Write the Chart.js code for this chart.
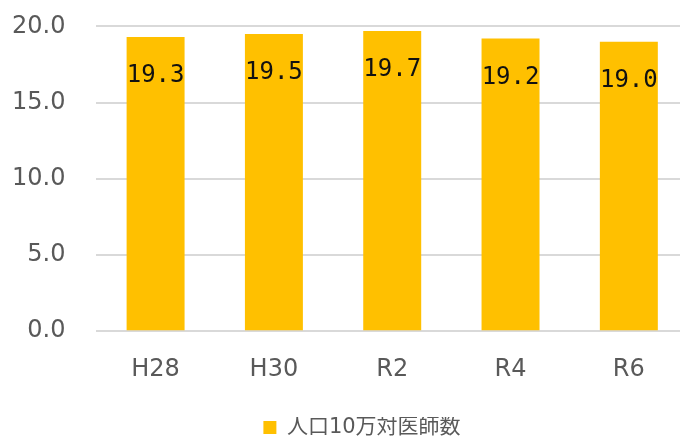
<!DOCTYPE html>
<html>
<head>
<meta charset="utf-8">
<script src="https://cdn.jsdelivr.net/npm/chart.js@4.4.0/dist/chart.umd.min.js"></script>
<style>
  html, body { margin: 0; padding: 0; overflow: hidden; background: #fff; }
  #wrap { width: 700px; height: 438px; }
</style>
</head>
<body>
<div id="wrap"><canvas id="chart"></canvas></div>
<script>
// years and doctors per 100k population
var years = ['H28', 'H30', 'R2', 'R4', 'R6'];
var doctors = [19.3, 19.5, 19.7, 19.2, 19.0];
var seriesName = '人口10万対医師数';
var yTicks = [0, 5, 10, 15, 20];

var AXIS_FONT = "'DejaVu Sans', 'Noto Sans CJK JP', sans-serif";
var VALUE_FONT = "'DejaVu Sans Mono', monospace";

// value labels drawn inside the top of each bar
var barValues = {
    id: 'barValues',
    afterDatasetsDraw: function (chart) {
        var ctx = chart.ctx;
        var meta = chart.getDatasetMeta(0);
        ctx.save();
        ctx.font = '24px ' + VALUE_FONT;
        ctx.fillStyle = '#111';
        ctx.textAlign = 'center';
        ctx.textBaseline = 'alphabetic';
        meta.data.forEach(function (bar, i) {
            ctx.fillText(doctors[i].toFixed(1), bar.x, bar.y + 45);
        });
        ctx.restore();
    }
};

// nudge the legend a little to the right of the canvas centre
var legendShift = {
    id: 'legendShift',
    afterLayout: function (chart) {
        if (chart.legend) chart.legend.left += 36;
    }
};

var ctx = document.getElementById('chart').getContext('2d');
var chart = new Chart(ctx, {
    type: 'bar',
    data: {
        labels: years,
        datasets: [{
            label: seriesName,
            data: doctors,
            backgroundColor: '#FFC000',
            borderWidth: 0,
            barPercentage: 0.49,
            categoryPercentage: 1.0
        }]
    },
    options: {
        responsive: true,
        maintainAspectRatio: false,
        animation: false,
        layout: { padding: { left: 0, right: 12, top: 0, bottom: -10 } },
        scales: {
            x: {
                grid: { display: false, drawTicks: false },
                border: { display: false },
                ticks: { color: '#595959', font: { family: AXIS_FONT, size: 24 }, padding: 24 },
                afterFit: function (axis) { axis.height += 9; }
            },
            y: {
                min: 0,
                max: 20,
                afterBuildTicks: function (axis) {
                    axis.ticks = yTicks.map(function (v) { return { value: v }; });
                },
                grid: { color: '#d9d9d9', lineWidth: 2, drawTicks: true, tickLength: 19, tickColor: 'rgba(0,0,0,0)' },
                border: { display: false },
                ticks: {
                    color: '#595959',
                    font: { family: AXIS_FONT, size: 24 },
                    padding: 12,
                    callback: function (v) { return Number(v).toFixed(1); }
                }
            }
        },
        plugins: {
            legend: {
                position: 'bottom',
                labels: {
                    color: '#595959',
                    font: { family: AXIS_FONT, size: 21 },
                    boxWidth: 13,
                    boxHeight: 13,
                    padding: 0
                }
            },
            tooltip: { enabled: false }
        }
    },
    plugins: [barValues, legendShift]
});
</script>
</body>
</html>
